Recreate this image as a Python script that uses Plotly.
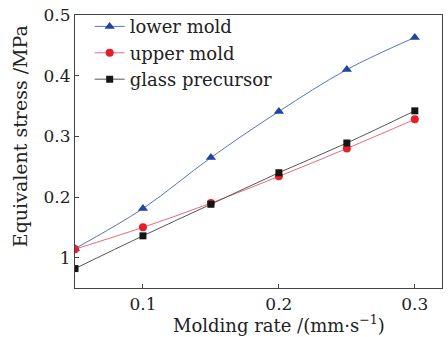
import plotly.graph_objects as go

x = [0.05, 0.10, 0.15, 0.20, 0.25, 0.30]
lower_mold = [0.115, 0.181, 0.265, 0.341, 0.410, 0.463]
upper_mold = [0.114, 0.150, 0.190, 0.234, 0.280, 0.328]
glass_precursor = [0.082, 0.136, 0.188, 0.240, 0.289, 0.342]

ytick_vals = [0.1, 0.2, 0.3, 0.4, 0.5]
ytick_text = ["1", "0.2", "0.3", "0.4", "0.5"]
xtick_vals = [0.1, 0.2, 0.3]
xtick_text = ["0.1", "0.2", "0.3"]

FONT = "DejaVu Serif"

fig = go.Figure()
fig.add_trace(go.Scatter(
    x=x, y=lower_mold, name="lower mold", mode="lines+markers",
    line=dict(color="#5a72c8", width=1, shape="spline"),
    marker=dict(symbol="triangle-up", size=9, color="#1f45a0"),
))
fig.add_trace(go.Scatter(
    x=x, y=upper_mold, name="upper mold", mode="lines+markers",
    line=dict(color="#ec6a78", width=1, shape="spline"),
    marker=dict(symbol="circle", size=8, color="#e61e2a"),
))
fig.add_trace(go.Scatter(
    x=x, y=glass_precursor, name="glass precursor", mode="lines+markers",
    line=dict(color="#555555", width=1, shape="spline"),
    marker=dict(symbol="square", size=7, color="#151515"),
))

fig.update_layout(
    width=448, height=337,
    margin=dict(l=75, r=5, t=12, b=49),
    paper_bgcolor="white", plot_bgcolor="white",
    font=dict(family=FONT, size=17, color="#222222"),
    showlegend=True,
    legend=dict(x=0.04, y=1.025, xanchor="left", yanchor="top",
                bgcolor="rgba(0,0,0,0)", font=dict(family=FONT, size=18),
                tracegroupgap=0, itemwidth=30),
    xaxis=dict(range=[0.05, 0.32], tickvals=xtick_vals, ticktext=xtick_text,
               ticks="inside", ticklen=4, tickcolor="#444", showgrid=False,
               zeroline=False, showline=True, linecolor="#444", linewidth=1.2,
               mirror=True, tickfont=dict(family=FONT, size=17)),
    yaxis=dict(range=[0.05, 0.5], tickvals=ytick_vals, ticktext=ytick_text,
               ticks="inside", ticklen=4, tickcolor="#444", showgrid=False,
               zeroline=False, showline=True, linecolor="#444", linewidth=1.2,
               mirror=True, tickfont=dict(family=FONT, size=17)),
    annotations=[
        dict(text="Equivalent stress /MPa", xref="paper", yref="paper",
             x=-0.148, y=0.555, textangle=-90, showarrow=False,
             xanchor="center", yanchor="middle",
             font=dict(family=FONT, size=19)),
        dict(text="Molding rate /(mm·s<sup>−1</sup>)", xref="paper", yref="paper",
             x=0.555, y=-0.08, showarrow=False, xanchor="center", yanchor="top",
             font=dict(family=FONT, size=18)),
    ],
)

fig.write_html("out.html")
